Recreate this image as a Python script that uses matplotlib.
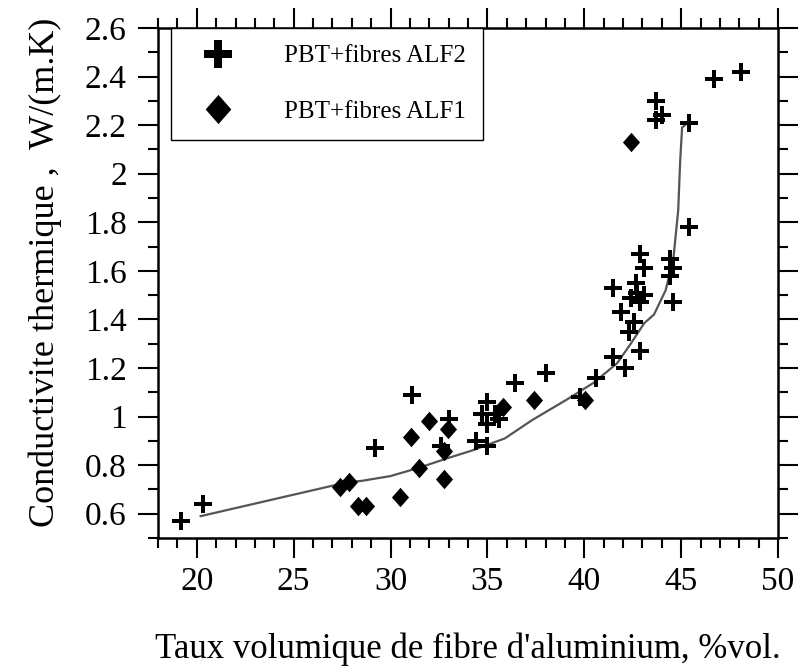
import matplotlib
matplotlib.use("Agg")
import matplotlib.pyplot as plt
from matplotlib.ticker import MultipleLocator, FixedLocator

plt.rcParams['font.family'] = ['Liberation Serif', 'DejaVu Serif']

# PBT + fibres ALF2 (crosses)
alf2_x = [19.2, 20.3, 29.2, 31.1, 32.6, 33.0, 34.4, 34.7, 35.0, 35.0, 35.0, 35.4, 35.6,
          36.4, 38.0, 39.8, 40.6, 41.5, 41.9, 41.5, 42.1, 42.3, 42.55, 42.4, 42.65, 42.7,
          42.9, 42.9, 43.1, 42.9, 43.1, 43.7, 43.7, 44.0, 44.4, 44.4, 44.6, 44.6, 45.4,
          45.4, 46.7, 48.1]
alf2_y = [0.57, 0.64, 0.87, 1.09, 0.88, 0.99, 0.90, 1.01, 1.06, 0.97, 0.88, 1.01, 0.99,
          1.14, 1.18, 1.08, 1.16, 1.53, 1.43, 1.245, 1.20, 1.35, 1.39, 1.49, 1.55, 1.51,
          1.47, 1.67, 1.61, 1.27, 1.50, 2.30, 2.22, 2.24, 1.65, 1.58, 1.61, 1.47, 1.78,
          2.21, 2.39, 2.42]

# PBT + fibres ALF1 (diamonds)
alf1_x = [27.4, 27.85, 28.3, 28.75, 30.5, 31.05, 31.45, 32.0, 32.75, 32.75, 32.95,
          35.8, 37.4, 40.05, 42.4]
alf1_y = [0.71, 0.73, 0.63, 0.63, 0.67, 0.915, 0.79, 0.98, 0.745, 0.86, 0.95,
          1.04, 1.07, 1.07, 2.13]

# model curve
line_x = [20.2, 27.8, 28.5, 30.0, 31.5, 33.0, 34.2, 35.9, 37.3, 39.1, 40.5, 41.7,
          42.4, 43.1, 43.6, 44.2, 44.6, 44.85, 44.95, 45.05, 45.2]
line_y = [0.59, 0.73, 0.735, 0.755, 0.79, 0.83, 0.86, 0.91, 0.985, 1.07, 1.14, 1.22,
          1.30, 1.385, 1.42, 1.52, 1.65, 1.85, 2.05, 2.19, 2.20]

labels = ['PBT+fibres ALF2', 'PBT+fibres ALF1']
xticks = [20, 25, 30, 35, 40, 45, 50]
yticks = [0.6, 0.8, 1.0, 1.2, 1.4, 1.6, 1.8, 2.0, 2.2, 2.4, 2.6]
ytick_labels = ['0.6', '0.8', '1', '1.2', '1.4', '1.6', '1.8', '2', '2.2', '2.4', '2.6']

a = 0.25
plus_verts = [(-a, 1), (a, 1), (a, a), (1, a), (1, -a), (a, -a), (a, -1), (-a, -1),
              (-a, -a), (-1, -a), (-1, a), (-a, a), (-a, 1)]
diam_verts = [(0, 1), (0.88, 0), (0, -1), (-0.88, 0), (0, 1)]

fig = plt.figure(figsize=(8.02, 6.72), dpi=100)
ax = fig.add_axes([158/802, 1 - 538/672, 620/802, 510/672])

ax.plot(line_x, line_y, color='#555555', lw=1.6, zorder=2)
ax.plot(alf2_x, alf2_y, linestyle='none', marker=plus_verts, ms=13.5, color='black',
        mew=0, label=labels[0], zorder=3)
ax.plot(alf1_x, alf1_y, linestyle='none', marker=diam_verts, ms=14, color='black',
        mew=0, label=labels[1], zorder=4)

ax.set_xlim(18, 50)
ax.set_ylim(0.5, 2.6)
ax.xaxis.set_major_locator(FixedLocator(xticks))
ax.xaxis.set_minor_locator(MultipleLocator(1))
ax.yaxis.set_major_locator(FixedLocator(yticks))
ax.set_yticklabels(ytick_labels)
ax.yaxis.set_minor_locator(MultipleLocator(0.1))

for s in ax.spines.values():
    s.set_linewidth(1.8)
ax.tick_params(which='both', direction='out', top=True, right=True, width=1.5,
               labelsize=24, labeltop=False, labelright=False)
ax.tick_params(which='major', length=14.5)
ax.tick_params(which='minor', length=7.5)
ax.tick_params(axis='x', which='major', pad=6)
ax.tick_params(axis='y', which='major', pad=8)

ax.set_xlabel("Taux volumique de fibre d'aluminium, %vol.", fontsize=25)
ax.xaxis.set_label_coords(0.5, -0.185)
ax.set_ylabel("Conductivite thermique ,  W/(m.K)", fontsize=26)
ax.yaxis.set_label_coords(-0.155, 0.52)

leg = ax.legend(loc='upper left', bbox_to_anchor=(0.021, 1.0), borderaxespad=0,
                fontsize=18, markerscale=1.5, frameon=True, fancybox=False,
                edgecolor='black', framealpha=1, handlelength=2.4, handletextpad=1.45,
                borderpad=0.68, labelspacing=1.3)
leg.get_frame().set_linewidth(1.0)

fig.savefig('out.png', dpi=100)
